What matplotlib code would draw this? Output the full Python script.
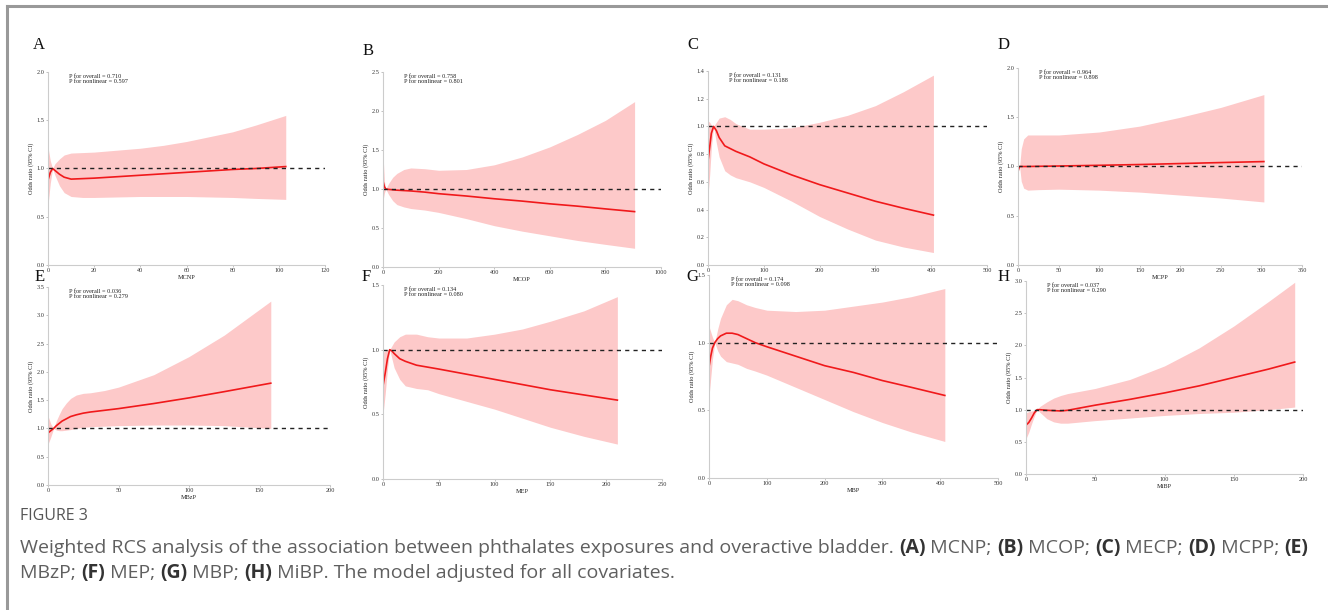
import matplotlib
matplotlib.use("Agg")
import matplotlib.pyplot as plt
from matplotlib.lines import Line2D

# ---------------------------------------------------------------------------
# Data (x = exposure, OR with 95% CI)
# ---------------------------------------------------------------------------
a_x  = [0, 1, 2, 3, 5, 7, 10, 15, 20, 30, 40, 50, 60, 70, 80, 90, 103]
a_or = [0.88, 0.96, 1.00, 0.98, 0.94, 0.91, 0.89, 0.895, 0.90, 0.915, 0.93, 0.945, 0.96, 0.975, 0.99, 1.00, 1.02]
a_lo = [0.62, 0.85, 1.00, 0.93, 0.82, 0.75, 0.71, 0.70, 0.70, 0.705, 0.71, 0.71, 0.71, 0.705, 0.70, 0.69, 0.68]
a_hi = [1.22, 1.08, 1.00, 1.05, 1.10, 1.14, 1.16, 1.165, 1.17, 1.19, 1.21, 1.24, 1.28, 1.33, 1.38, 1.45, 1.55]

b_x  = [0, 5, 10, 20, 35, 50, 75, 100, 150, 200, 300, 400, 500, 600, 700, 800, 905]
b_or = [1.10, 1.03, 1.00, 0.995, 0.99, 0.985, 0.98, 0.975, 0.96, 0.94, 0.91, 0.875, 0.845, 0.81, 0.78, 0.745, 0.71]
b_lo = [0.85, 0.95, 1.00, 0.93, 0.85, 0.80, 0.77, 0.75, 0.73, 0.70, 0.62, 0.53, 0.46, 0.40, 0.34, 0.29, 0.24]
b_hi = [1.45, 1.10, 1.00, 1.07, 1.15, 1.20, 1.25, 1.27, 1.26, 1.24, 1.25, 1.31, 1.41, 1.54, 1.70, 1.88, 2.12]

c_x  = [0, 3, 6, 10, 15, 20, 30, 40, 50, 75, 100, 150, 200, 250, 300, 350, 404]
c_or = [0.75, 0.85, 0.95, 1.00, 0.97, 0.92, 0.86, 0.84, 0.82, 0.78, 0.73, 0.65, 0.58, 0.52, 0.46, 0.41, 0.36]
c_lo = [0.50, 0.65, 0.85, 1.00, 0.88, 0.78, 0.68, 0.65, 0.63, 0.60, 0.56, 0.46, 0.35, 0.26, 0.18, 0.13, 0.09]
c_hi = [1.04, 1.03, 1.01, 1.00, 1.03, 1.06, 1.07, 1.05, 1.02, 0.98, 0.98, 0.99, 1.03, 1.08, 1.15, 1.25, 1.37]

d_x  = [0, 1, 2, 4, 7, 12, 25, 50, 100, 150, 200, 250, 303]
d_or = [0.95, 0.98, 1.00, 1.00, 1.00, 1.00, 1.002, 1.005, 1.012, 1.02, 1.03, 1.04, 1.05]
d_lo = [0.92, 0.97, 1.00, 0.85, 0.78, 0.76, 0.765, 0.77, 0.76, 0.74, 0.71, 0.68, 0.64]
d_hi = [1.00, 1.00, 1.00, 1.18, 1.28, 1.32, 1.32, 1.32, 1.35, 1.41, 1.50, 1.60, 1.73]

e_x  = [0, 2, 4, 6, 8, 10, 13, 16, 20, 25, 30, 40, 50, 75, 100, 125, 158]
e_or = [0.92, 0.96, 1.00, 1.05, 1.09, 1.13, 1.17, 1.21, 1.24, 1.27, 1.29, 1.32, 1.35, 1.44, 1.54, 1.65, 1.80]
e_lo = [0.72, 0.85, 1.00, 0.97, 0.96, 0.96, 0.97, 0.98, 1.00, 1.02, 1.03, 1.04, 1.05, 1.06, 1.06, 1.05, 1.00]
e_hi = [1.22, 1.08, 1.00, 1.14, 1.25, 1.35, 1.45, 1.53, 1.59, 1.62, 1.63, 1.67, 1.73, 1.95, 2.27, 2.65, 3.25]

f_x  = [0, 2, 4, 6, 8, 10, 15, 20, 30, 40, 50, 75, 100, 125, 150, 180, 210]
f_or = [0.72, 0.82, 0.93, 1.00, 0.99, 0.97, 0.93, 0.91, 0.88, 0.865, 0.85, 0.81, 0.77, 0.73, 0.69, 0.65, 0.61]
f_lo = [0.50, 0.66, 0.85, 1.00, 0.93, 0.86, 0.77, 0.72, 0.70, 0.69, 0.66, 0.60, 0.54, 0.47, 0.40, 0.33, 0.27]
f_hi = [0.98, 0.99, 1.00, 1.00, 1.03, 1.06, 1.10, 1.12, 1.12, 1.10, 1.09, 1.09, 1.12, 1.16, 1.22, 1.30, 1.41]

g_x  = [0, 3, 6, 10, 15, 20, 30, 40, 50, 65, 80, 100, 150, 200, 250, 300, 350, 408]
g_or = [0.82, 0.90, 0.96, 1.00, 1.03, 1.05, 1.07, 1.07, 1.06, 1.03, 1.00, 0.97, 0.90, 0.83, 0.78, 0.72, 0.67, 0.61]
g_lo = [0.60, 0.74, 0.88, 1.00, 0.94, 0.90, 0.86, 0.85, 0.84, 0.81, 0.79, 0.76, 0.67, 0.58, 0.49, 0.41, 0.34, 0.27]
g_hi = [1.12, 1.08, 1.04, 1.00, 1.10, 1.18, 1.28, 1.32, 1.31, 1.28, 1.26, 1.24, 1.23, 1.24, 1.27, 1.30, 1.34, 1.40]

h_x  = [0, 2, 4, 6, 8, 10, 15, 20, 25, 30, 40, 50, 75, 100, 125, 150, 175, 194]
h_or = [0.76, 0.80, 0.87, 0.95, 1.00, 1.00, 0.99, 0.985, 0.98, 0.99, 1.03, 1.07, 1.16, 1.26, 1.37, 1.50, 1.63, 1.74]
h_lo = [0.55, 0.65, 0.78, 0.90, 1.00, 0.96, 0.86, 0.81, 0.79, 0.79, 0.81, 0.83, 0.87, 0.91, 0.94, 0.96, 1.00, 1.04]
h_hi = [0.95, 0.97, 0.98, 0.99, 1.00, 1.05, 1.12, 1.18, 1.22, 1.25, 1.29, 1.33, 1.47, 1.68, 1.96, 2.30, 2.68, 2.98]

letters   = ["A", "B", "C", "D", "E", "F", "G", "H"]
exposures = ["MCNP", "MCOP", "MECP", "MCPP", "MBzP", "MEP", "MBP", "MiBP"]
p_overall   = ["0.710", "0.758", "0.131", "0.964", "0.036", "0.134", "0.174", "0.037"]
p_nonlinear = ["0.597", "0.801", "0.188", "0.898", "0.279", "0.080", "0.098", "0.290"]
x_max  = [120, 1000, 500, 350, 200, 250, 500, 200]
x_step = [20, 200, 100, 50, 50, 50, 100, 50]
y_max  = [2.0, 2.5, 1.4, 2.0, 3.5, 1.5, 1.5, 3.0]
y_step = [0.5, 0.5, 0.2, 0.5, 0.5, 0.5, 0.5, 0.5]

curves = [
    (a_x, a_or, a_lo, a_hi), (b_x, b_or, b_lo, b_hi),
    (c_x, c_or, c_lo, c_hi), (d_x, d_or, d_lo, d_hi),
    (e_x, e_or, e_lo, e_hi), (f_x, f_or, f_lo, f_hi),
    (g_x, g_or, g_lo, g_hi), (h_x, h_or, h_lo, h_hi),
]

# ---------------------------------------------------------------------------
# Layout (pixel boxes: left, top, right, bottom) and label anchors
# ---------------------------------------------------------------------------
W, H = 1328, 610
boxes = [
    (48, 72, 325, 265), (383, 72, 661, 267), (708, 71, 987, 265), (1018, 68, 1302, 265),
    (48, 287, 330, 485), (383, 285, 662, 479), (709, 275, 998, 478), (1026, 281, 1303, 474),
]
letter_pos = [(33, 45), (363, 51), (687, 45), (998, 45),
              (35, 277), (362, 277), (686, 277), (998, 277)]

SERIF = ["Liberation Serif", "DejaVu Serif"]
FILL = "#fdc9c9"
LINE = "#f0191b"

fig = plt.figure(figsize=(W / 100, H / 100), dpi=100)

# page frame
fig.add_artist(Line2D([7 / W, 1.0], [1 - 6 / H, 1 - 6 / H], color="#999999", lw=2.2))
fig.add_artist(Line2D([7 / W, 7 / W], [0, 1 - 6 / H], color="#999999", lw=2.2))

for i, (x, orr, lo, hi) in enumerate(curves):
    l, t, r, b = boxes[i]
    ax = fig.add_axes([l / W, 1 - b / H, (r - l) / W, (b - t) / H])
    ax.fill_between(x, lo, hi, color=FILL, lw=0)
    ax.plot(x, orr, color=LINE, lw=1.2)
    ax.axhline(1.0, color="#222222", lw=1.0, ls=(0, (3, 3)))
    ax.set_xlim(0, x_max[i])
    ax.set_ylim(0, y_max[i])
    n_x = int(round(x_max[i] / x_step[i]))
    n_y = int(round(y_max[i] / y_step[i]))
    ax.set_xticks([k * x_step[i] for k in range(n_x + 1)])
    ax.set_yticks([k * y_step[i] for k in range(n_y + 1)])
    ax.set_yticklabels([f"{k * y_step[i]:.1f}" for k in range(n_y + 1)])
    for s in ("top", "right"):
        ax.spines[s].set_visible(False)
    for s in ("left", "bottom"):
        ax.spines[s].set_color("#cccccc")
        ax.spines[s].set_linewidth(0.8)
    ax.tick_params(length=1.5, width=0.5, color="#aaaaaa", pad=1, labelsize=4.5)
    for lab in ax.get_xticklabels() + ax.get_yticklabels():
        lab.set_family(SERIF)
        lab.set_color("#333333")
    ax.set_xlabel(exposures[i], fontsize=4.5, family=SERIF, labelpad=1, color="#222222")
    ax.set_ylabel("Odds ratio (95% CI)", fontsize=4.5, family=SERIF, labelpad=2, color="#222222")
    ax.text(0.075, 0.99, f"P for overall = {p_overall[i]}\nP for nonlinear = {p_nonlinear[i]}",
            transform=ax.transAxes, ha="left", va="top", fontsize=4.5, family=SERIF,
            color="#222222", linespacing=1.1)
    lx, ly = letter_pos[i]
    fig.text(lx / W, 1 - ly / H, letters[i], fontsize=12, family=SERIF,
             ha="left", va="center", color="#111111")

# ---------------------------------------------------------------------------
# Caption with bold panel markers
# ---------------------------------------------------------------------------
fig.text(20 / W, 1 - 516 / H, "FIGURE 3", fontsize=11.5, family="Open Sans",
         color="#555555", va="center")

cap_lines = [
    [("Weighted RCS analysis of the association between phthalates exposures and overactive bladder. ", False),
     ("(A)", True), (" MCNP; ", False), ("(B)", True), (" MCOP; ", False), ("(C)", True),
     (" MECP; ", False), ("(D)", True), (" MCPP; ", False), ("(E)", True)],
    [("MBzP; ", False), ("(F)", True), (" MEP; ", False), ("(G)", True), (" MBP; ", False),
     ("(H)", True), (" MiBP. The model adjusted for all covariates.", False)],
]
cap_y = [548, 573]
CAP_SIZE = 14.0
renderer = fig.canvas.get_renderer()
for line, yy in zip(cap_lines, cap_y):
    xpos = 20
    for txt, bold in line:
        t = fig.text(xpos / W, 1 - yy / H, txt, fontsize=CAP_SIZE, family="Open Sans",
                     weight="bold" if bold else "normal",
                     color="#333333" if bold else "#5f5f5f", va="center", ha="left")
        xpos += t.get_window_extent(renderer).width

fig.savefig("out.png", dpi=100)
